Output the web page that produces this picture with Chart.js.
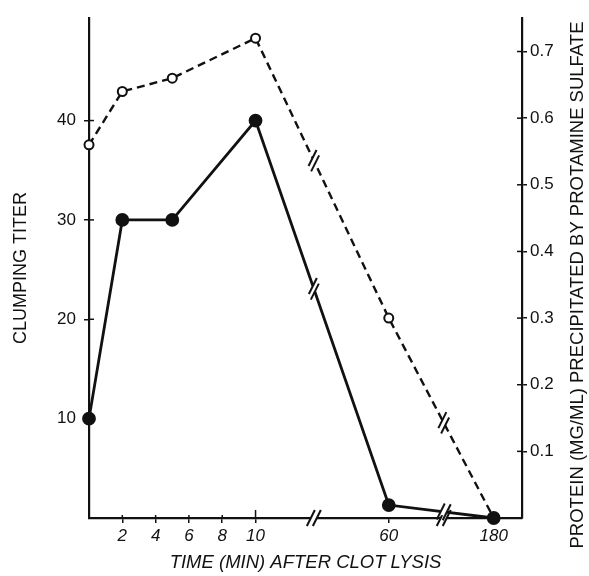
<!DOCTYPE html>
<html lang="en">
<head>
<meta charset="UTF-8">
<title>Clumping titer after clot lysis</title>
<script src="https://cdn.jsdelivr.net/npm/chart.js"></script>
<style>
  html, body { margin: 0; padding: 0; background: #fff; }
  #wrap { width: 589px; height: 576px; }
</style>
</head>
<body>
<div id="wrap"><canvas id="chart"></canvas></div>
<script>
// time after clot lysis (min) and the two measured series
const times = [0, 2, 5, 10, 60, 180];
const clumpingTiter = [10, 30, 30, 40, 1.3, 0];
const protein = [0.56, 0.64, 0.66, 0.72, 0.30, 0];

// tick labels
const timeTicks = [2, 4, 6, 8, 10, 60, 180];
const titerTicks = [10, 20, 30, 40];
const proteinTicks = [0.1, 0.2, 0.3, 0.4, 0.5, 0.6, 0.7];

// time axis is broken: 0-10 min linear, then 60 and 180 squeezed in
const brokenAxis = { 60: 18, 180: 24.3 };
const axisBreaks = [13.5, 21.3];
function timePos(t) { return t <= 10 ? t : brokenAxis[t]; }
function timeLabel(v) {
    const t = timeTicks.find(t => Math.abs(timePos(t) - v) < 1e-6);
    return t === undefined ? '' : String(t);
}

const ink = '#111';
const font = 'Liberation Sans, Arial, sans-serif';
const proteinTitle = 'PROTEIN (MG/ML) PRECIPITATED BY PROTAMINE SULFATE';

// the little // marks where axis and lines are broken
const breakMarks = {
    id: 'breakMarks',
    afterDatasetsDraw(chart) {
        const ctx = chart.ctx;
        const xs = chart.scales.x;
        const mark = (px, py, ux, uy) => {
            ctx.save();
            ctx.lineCap = 'butt';
            ctx.strokeStyle = '#fff';
            ctx.lineWidth = 7;
            ctx.beginPath();
            ctx.moveTo(px - ux * 3, py - uy * 3);
            ctx.lineTo(px + ux * 3, py + uy * 3);
            ctx.stroke();
            ctx.strokeStyle = ink;
            ctx.lineWidth = 2;
            [-3, 3].forEach(s => {
                const cx = px + ux * s, cy = py + uy * s;
                ctx.beginPath();
                ctx.moveTo(cx - 4, cy + 8);
                ctx.lineTo(cx + 4, cy - 8);
                ctx.stroke();
            });
            ctx.restore();
        };
        const bottom = chart.chartArea.bottom;
        axisBreaks.forEach(b => mark(xs.getPixelForValue(b), bottom, 1, 0));
        chart.getSortedVisibleDatasetMetas().forEach(meta => {
            const pts = meta.data;
            axisBreaks.forEach(b => {
                const bx = xs.getPixelForValue(b);
                for (let i = 0; i < pts.length - 1; i++) {
                    const a = pts[i], c = pts[i + 1];
                    if (a.x <= bx && bx <= c.x) {
                        const f = (bx - a.x) / (c.x - a.x);
                        const py = a.y + f * (c.y - a.y);
                        const len = Math.hypot(c.x - a.x, c.y - a.y);
                        mark(bx, py, (c.x - a.x) / len, (c.y - a.y) / len);
                        break;
                    }
                }
            });
        });
    }
};

// short tick marks on the inside of the axes too, so they cross the axis,
// and the right axis title which reads bottom-to-top
const axisExtras = {
    id: 'axisExtras',
    afterDraw(chart) {
        const ctx = chart.ctx;
        const area = chart.chartArea;
        ctx.save();
        ctx.strokeStyle = ink;
        ctx.lineWidth = 1.5;
        chart.scales.y.ticks.forEach(t => {
            const y = chart.scales.y.getPixelForValue(t.value);
            ctx.beginPath(); ctx.moveTo(area.left, y); ctx.lineTo(area.left + 5, y); ctx.stroke();
        });
        chart.scales.y2.ticks.forEach(t => {
            const y = chart.scales.y2.getPixelForValue(t.value);
            ctx.beginPath(); ctx.moveTo(area.right - 5, y); ctx.lineTo(area.right, y); ctx.stroke();
        });
        chart.scales.x.ticks.forEach(t => {
            if (t.value > 10) return;
            const x = chart.scales.x.getPixelForValue(t.value);
            const up = t.value === 10 ? 8 : 3;
            ctx.beginPath(); ctx.moveTo(x, area.bottom - up); ctx.lineTo(x, area.bottom); ctx.stroke();
        });

        ctx.translate(578, 285);
        ctx.rotate(-Math.PI / 2);
        ctx.fillStyle = ink;
        ctx.font = '18.5px ' + font;
        ctx.textAlign = 'center';
        ctx.textBaseline = 'middle';
        ctx.fillText(proteinTitle, 0, 0);
        ctx.restore();
    }
};

const ctx = document.getElementById('chart').getContext('2d');
new Chart(ctx, {
    type: 'line',
    data: {
        datasets: [{
            label: 'Clumping titer',
            data: times.map((t, i) => ({ x: timePos(t), y: clumpingTiter[i] })),
            yAxisID: 'y',
            borderColor: ink,
            borderWidth: 2.8,
            pointRadius: 5.5,
            pointBackgroundColor: ink,
            pointBorderColor: ink,
            tension: 0,
            clip: false
        }, {
            label: 'Protein precipitated by protamine sulfate',
            data: times.map((t, i) => ({ x: timePos(t), y: protein[i] })),
            yAxisID: 'y2',
            borderColor: ink,
            borderWidth: 2.4,
            borderDash: [8, 5],
            pointRadius: 4.5,
            pointBackgroundColor: '#fff',
            pointBorderColor: ink,
            pointBorderWidth: 2,
            tension: 0,
            clip: false
        }]
    },
    options: {
        responsive: true,
        maintainAspectRatio: false,
        animation: false,
        layout: { padding: { top: 15, left: 0, right: 0, bottom: 0 } },
        plugins: {
            legend: { display: false },
            tooltip: { enabled: false }
        },
        scales: {
            x: {
                type: 'linear',
                min: 0,
                max: 26,
                afterBuildTicks: s => { s.ticks = timeTicks.map(t => ({ value: timePos(t) })); },
                afterFit: s => { s.height = 58; },
                grid: { drawOnChartArea: false, drawTicks: true, tickLength: 5, color: ink, lineWidth: 1.5 },
                border: { color: ink, width: 2.2 },
                ticks: {
                    color: ink,
                    padding: 3,
                    maxRotation: 0,
                    autoSkip: false,
                    font: { family: font, size: 17, style: 'italic' },
                    callback: v => timeLabel(v)
                },
                title: {
                    display: true,
                    text: 'TIME (MIN) AFTER CLOT LYSIS',
                    color: ink,
                    align: 'center',
                    padding: { top: 0, bottom: 2 },
                    font: { family: font, size: 18.5, style: 'italic' }
                }
            },
            y: {
                position: 'left',
                min: 0,
                max: 50.3,
                afterBuildTicks: s => { s.ticks = titerTicks.map(v => ({ value: v })); },
                afterFit: s => { s.width = 89; },
                grid: { drawOnChartArea: false, drawTicks: true, tickLength: 5, color: ink, lineWidth: 1.5 },
                border: { color: ink, width: 2.2 },
                ticks: {
                    color: ink,
                    padding: 8,
                    font: { family: font, size: 17 }
                },
                title: {
                    display: true,
                    text: 'CLUMPING TITER',
                    color: ink,
                    padding: { top: 10, bottom: 0 },
                    font: { family: font, size: 18 }
                }
            },
            y2: {
                position: 'right',
                min: 0,
                max: 0.75,
                afterBuildTicks: s => { s.ticks = proteinTicks.map(v => ({ value: v })); },
                afterFit: s => { s.width = 67; },
                grid: { drawOnChartArea: false, drawTicks: true, tickLength: 5, color: ink, lineWidth: 1.5 },
                border: { color: ink, width: 2.2 },
                ticks: {
                    color: ink,
                    padding: 3,
                    font: { family: font, size: 17 },
                    callback: v => v.toFixed(1)
                },
                title: { display: false }
            }
        }
    },
    plugins: [breakMarks, axisExtras]
});
</script>
</body>
</html>
